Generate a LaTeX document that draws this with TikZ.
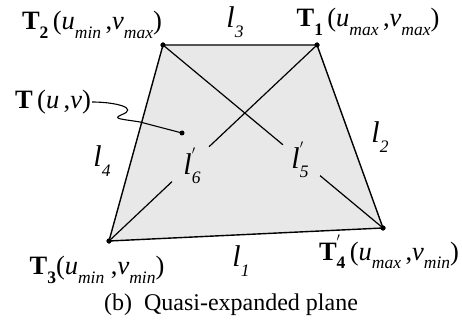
\documentclass[tikz,border=0pt]{standalone}
\usepackage{fontspec}
\setmainfont{Liberation Serif}
\usetikzlibrary{calc}
\newcommand{\lsb}[1]{\raisebox{-0.32em}{\fontsize{17.5}{17}\selectfont #1}}
\newcommand{\lsp}[2]{\makebox[0pt][l]{\raisebox{0.45em}{\fontsize{17.5}{17}\selectfont #1}}\raisebox{-0.32em}{\fontsize{17.5}{17}\selectfont #2}}
\begin{document}
\begin{tikzpicture}[x=1pt,y=-1pt,
  lab/.style={inner sep=1pt,font=\fontsize{26.5}{28}\selectfont},
  llab/.style={inner sep=1pt,font=\fontsize{30}{30}\selectfont},
  vdot/.style={circle,fill=black,inner sep=0pt,minimum size=5pt},
  edge/.style={line width=1.4pt},
  diag/.style={line width=1.2pt}]
\useasboundingbox (0,0) rectangle (462,323);
\node[vdot] (T1) at (317,45) {};
\node[vdot] (T2) at (163,45) {};
\node[vdot] (T3) at (109,241) {};
\node[vdot] (T4) at (383,228) {};
\fill[black!9] (T1.center) -- (T2.center) -- (T3.center) -- (T4.center) -- cycle;
\draw[edge] (T1.center) -- (T2.center) -- (T3.center) -- (T4.center) -- cycle;
\draw[diag] (T2.center) -- ($(T2.center)!0.545!(T4.center)$);
\draw[diag] ($(T2.center)!0.714!(T4.center)$) -- (T4.center);
\draw[diag] (T1.center) -- ($(T1.center)!0.519!(T3.center)$);
\draw[diag] ($(T1.center)!0.697!(T3.center)$) -- (T3.center);
\node[vdot] at (T1) {};
\node[vdot] at (T2) {};
\node[vdot] at (T3) {};
\node[vdot] at (T4) {};
\node[vdot] (P) at (182,133) {};
% labels
\node[lab] (L2) at (92,25) {\textbf{T}\lsb{\textbf{2}}\,(\textit{u}\lsb{\textit{min}}\,,\textit{v}\lsb{\textit{max}})};
\node[lab] (L1) at (368,22) {\textbf{T}\lsb{\textbf{1}}\,(\textit{u}\lsb{\textit{max}}\,,\textit{v}\lsb{\textit{max}})};
\node[lab] (L3) at (97,270) {\textbf{T}\lsb{\textbf{3}}(\textit{u}\lsb{\textit{min}}\ ,\textit{v}\lsb{\textit{min}})};
\node[lab] (L4) at (389,252) {\textbf{T}\lsp{$'$}{\textbf{4}}\,(\textit{u}\lsb{\textit{max}}\,,\textit{v}\lsb{\textit{min}})};
\node[lab] (LP) at (53,102) {\textbf{T}\,(\textit{u}\,,\textit{v})};
\node[llab] (l3) at (235,22) {\textit{l}\lsb{\textit{3}}};
\node[llab] (l2) at (380,137) {\textit{l}\lsb{\textit{2}}};
\node[llab] (l4) at (102,161) {\textit{l}\lsb{\textit{4}}};
\node[llab] (l1) at (241,261) {\textit{l}\lsb{\textit{1}}};
\node[llab] (l6) at (192,166) {\textit{l}\lsp{$'$}{\textit{6}}};
\node[llab] (l5) at (300,160) {\textit{l}\lsp{$'$}{\textit{5}}};
\draw[line width=1.1pt] (LP.east) .. controls (115,102) and (140,108) .. (121,115)
  .. controls (112,119) and (122,119) .. (140,122) -- (P.center);
\node[font=\fontsize{24}{26}\selectfont] (cap) at (231,305) {(b)\ \ Quasi-expanded plane};
\end{tikzpicture}
\end{document}
